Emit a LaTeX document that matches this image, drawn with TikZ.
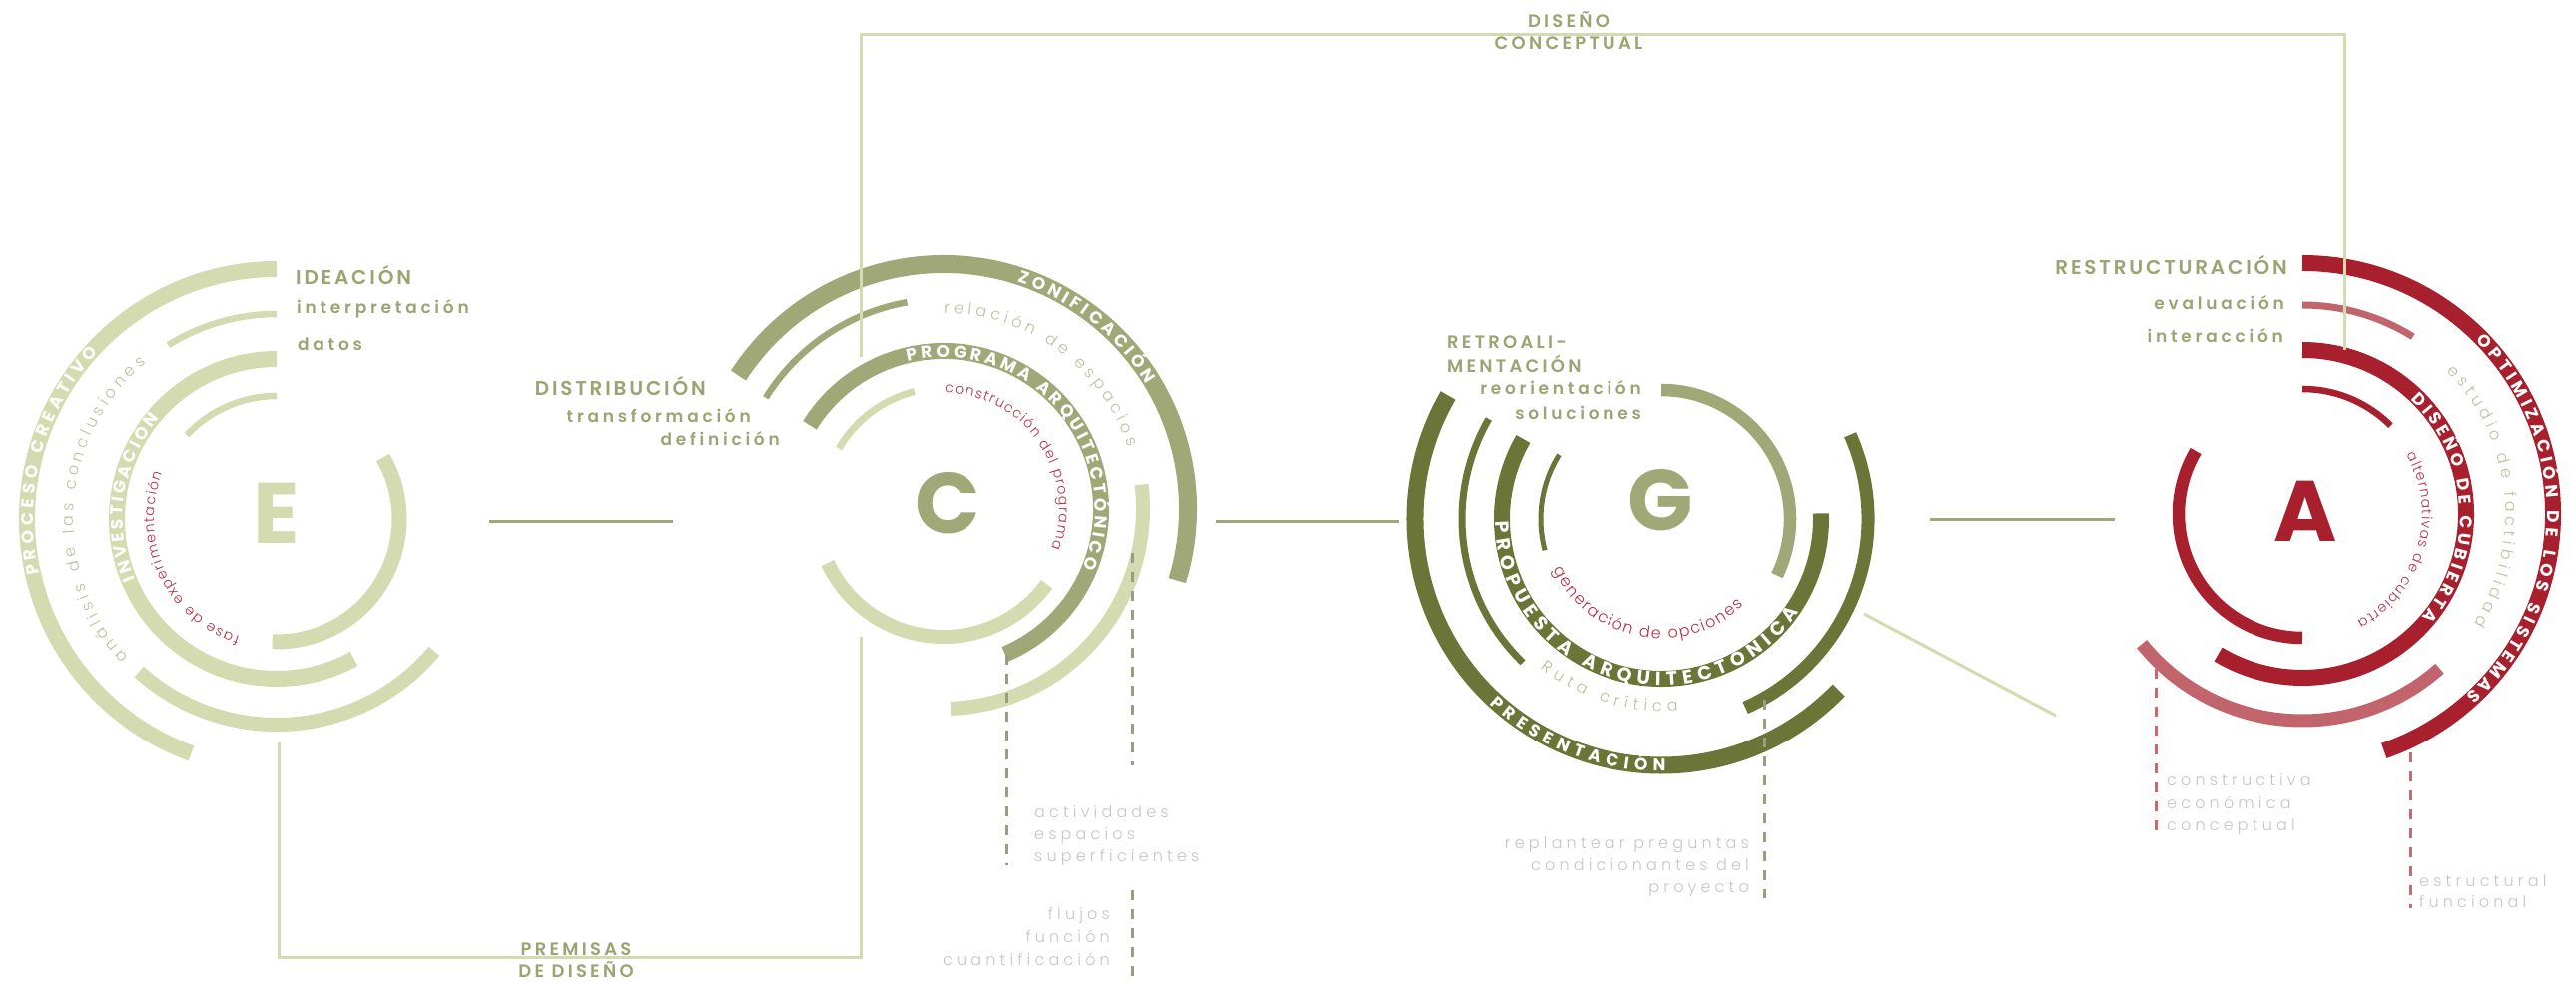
\documentclass[tikz,border=0pt]{standalone}
\usepackage{fontspec}
\setmainfont{Poppins}
\newfontfamily\capsfont[LetterSpace=14]{Poppins SemiBold}
\newfontfamily\midcapsfont[LetterSpace=18]{Poppins SemiBold}
\newfontfamily\lowfont[LetterSpace=22]{Poppins SemiBold}
\newfontfamily\grayfont[LetterSpace=26]{Poppins Light}
\newfontfamily\lightfont{Poppins Light}
\usetikzlibrary{decorations.text}
\definecolor{sage}{HTML}{D4DBB0}
\definecolor{olive}{HTML}{A0A878}
\definecolor{dolive}{HTML}{6B7537}
\definecolor{dred}{HTML}{A8202E}
\definecolor{lred}{HTML}{C1646C}
\definecolor{redtxt}{HTML}{B83044}
\definecolor{graytxt}{HTML}{C6C6C6}
\definecolor{sagetxt}{HTML}{BCC2A0}
\definecolor{lblcol}{HTML}{9DA473}
\definecolor{dashol}{HTML}{9A9E80}
\definecolor{dashred}{HTML}{C86A72}
\newcommand{\ringarc}[6]{\draw[#6,line width=#5pt] ([shift={(#2:#4)}]#1) arc[start angle=#2,end angle=#3,radius=#4];}
\newcommand{\arctext}[6]{\path[decorate,decoration={text along path,text align=fit to path,text={|#5|#6}}] ([shift={(#2:#4)}]#1) arc[start angle=#2,end angle=#3,radius=#4];}
\newcommand{\bandfont}{\color{white}\bfseries\fontsize{17}{17}\selectfont}
\newcommand{\bigbandfont}{\color{white}\bfseries\fontsize{19}{19}\selectfont}
\newcommand{\thinfont}{\color{sagetxt}\lightfont\fontsize{16}{16}\selectfont}
\newcommand{\redfont}{\color{redtxt}\lightfont\fontsize{14}{14}\selectfont}
\tikzset{
  capslbl/.style={inner sep=0pt,text=lblcol,font=\capsfont\fontsize{20}{20}\selectfont},
  midcaps/.style={inner sep=0pt,text=lblcol,font=\midcapsfont\fontsize{18}{18}\selectfont},
  lowlbl/.style={inner sep=0pt,text=lblcol,font=\lowfont\fontsize{17}{17}\selectfont},
  graylbl/.style={inner sep=0pt,text=graytxt,font=\grayfont\fontsize{16}{16}\selectfont},
  bigletter/.style={inner sep=0pt,font=\bfseries\fontsize{86}{86}\selectfont},
  link/.style={olive,line width=3pt},
  frameline/.style={sage,line width=3pt},
  dashline/.style={line width=3pt,dash pattern=on 10pt off 9pt},
}
\begin{document}
\begin{tikzpicture}[x=1pt,y=1pt]
\fill[white] (0,0) rectangle (2580,989);
\useasboundingbox (0,0) rectangle (2580,989);
% centres
\coordinate (E) at (277,469);
\coordinate (C) at (945,479);
\coordinate (G) at (1664,469);
\coordinate (A) at (2306,474);
% ---------- E group
\ringarc{E}{90}{250}{250}{16}{sage}
\ringarc{E}{90}{122}{205}{6.5}{sage}
\ringarc{E}{90}{299}{160}{16}{sage}
\ringarc{E}{90}{137}{123}{6.5}{sage}
\ringarc{E}{30}{-92}{123}{15}{sage}
\ringarc{E}{228}{320}{206}{14}{sage}
\node[bigletter,text=sage] (Eletter) at (277,475) {E};
\arctext{E}{193}{137}{244}{\bandfont}{PROCESO CREATIVO}
\arctext{E}{223}{130}{203.5}{\thinfont}{análisis de las conclusiones}
\arctext{E}{203}{139.5}{154}{\bandfont}{INVESTIGACIÓN}
\arctext{E}{252.5}{158}{123}{\redfont}{fase de experimentación}
% ---------- C group
\ringarc{C}{147}{-17}{245}{18}{olive}
\ringarc{C}{100}{148}{210}{6.5}{olive}
\ringarc{C}{148}{-67}{158}{16}{olive}
\ringarc{C}{104}{150}{121}{7}{sage}
\ringarc{C}{205}{324}{128}{14}{sage}
\ringarc{C}{7}{-88}{200}{14}{sage}
\node[bigletter,text=olive] (Cletter) at (949,485) {C};
\arctext{C}{72}{31.5}{239}{\bandfont}{ZONIFICACIÓN}
\arctext{C}{90}{18.6}{195.5}{\thinfont}{relación de espacios}
\arctext{C}{103.7}{-23}{152}{\bandfont}{PROGRAMA ARQUITECTÓNICO}
\arctext{C}{89.5}{-20}{116}{\redfont}{construcción del programa}
% ---------- G group
\ringarc{G}{90}{-26}{129}{12.5}{olive}
\ringarc{G}{148}{195}{121}{5}{dolive}
\ringarc{G}{150}{362}{160}{16}{dolive}
\ringarc{G}{150}{226}{200}{7}{dolive}
\ringarc{G}{24}{-66}{207}{13}{dolive}
\ringarc{G}{150}{316}{247}{17}{dolive}
\node[bigletter,text=olive] (Gletter) at (1663,488) {G};
\arctext{G}{181}{326}{166.5}{\bigbandfont}{PROPUESTA ARQUITECTÓNICA}
\arctext{G}{227}{271}{253}{\bandfont}{PRESENTACIÓN}
\arctext{G}{205}{313.6}{119.5}{\color{redtxt}\lightfont\fontsize{16}{16}\selectfont}{generación de opciones}
\arctext{G}{231}{275}{192.5}{\thinfont}{Ruta crítica}
% ---------- A group
\ringarc{A}{90}{-71}{251}{16}{dred}
\ringarc{A}{90}{58}{209}{7}{lred}
\ringarc{A}{90}{-121}{164}{16}{dred}
\ringarc{A}{90}{45}{125}{6.5}{dred}
\ringarc{A}{149.5}{270}{124}{12.5}{dred}
\ringarc{A}{219}{311.6}{207}{13}{lred}
\node[bigletter,text=dred] (Aletter) at (2309,477) {A};
\arctext{A}{45}{-48}{245}{\bandfont}{OPTIMIZACIÓN DE LOS SISTEMAS}
\arctext{A}{44.6}{-32.5}{203.5}{\thinfont}{estudio de factibilidad}
\arctext{A}{46.5}{-40.6}{158}{\bandfont}{DISEÑO DE CUBIERTA}
\arctext{A}{29.7}{-62.8}{120}{\redfont}{alternativas de cubierta}
% ---------- connectors between groups
\coordinate (ec1) at (490,466); \coordinate (ec2) at (674,466);
\coordinate (cg1) at (1218,466); \coordinate (cg2) at (1401,466);
\coordinate (ga1) at (1933,468); \coordinate (ga2) at (2118,468);
\draw[link] (ec1) -- (ec2);
\draw[link] (cg1) -- (cg2);
\draw[link] (ga1) -- (ga2);
% top frame: DISEÑO CONCEPTUAL
\coordinate (tl) at (862,954); \coordinate (tr) at (2348,954);
\coordinate (tlb) at (862,631); \coordinate (trb) at (2348,638);
\draw[frameline] (tlb) -- (tl) -- (tr) -- (trb);
% bottom frame: PREMISAS DE DISEÑO
\coordinate (bl1) at (862,351); \coordinate (bl2) at (862,30);
\coordinate (bl3) at (279,30); \coordinate (bl4) at (279,245);
\draw[frameline] (bl1) -- (bl2) -- (bl3) -- (bl4);
% diagonal
\coordinate (dg1) at (1867,374); \coordinate (dg2) at (2059,272);
\draw[frameline] (dg1) -- (dg2);
% dashed leaders
\coordinate (c1a) at (1008,333); \coordinate (c1b) at (1008,122);
\coordinate (c2a) at (1134,435); \coordinate (c2b) at (1134,222);
\coordinate (c3a) at (1134,97);  \coordinate (c3b) at (1134,2);
\coordinate (g1a) at (1767,288); \coordinate (g1b) at (1767,89);
\coordinate (a1a) at (2159,319); \coordinate (a1b) at (2159,154);
\coordinate (a2a) at (2414,235); \coordinate (a2b) at (2414,79);
\draw[dashline,dashol] (c1a) -- (c1b);
\draw[dashline,dashol] (c2a) -- (c2b);
\draw[dashline,dashol] (c3a) -- (c3b);
\draw[dashline,dashol] (g1a) -- (g1b);
\draw[dashline,dashred] (a1a) -- (a1b);
\draw[dashline,dashred] (a2a) -- (a2b);
% ---------- labels
\node[capslbl,anchor=base west] (ideac) at (296,703) {IDEACIÓN};
\node[lowlbl,anchor=base west] (interp) at (297,674) {interpretación};
\node[lowlbl,anchor=base west] (datos) at (298,637) {datos};
\node[capslbl,anchor=base east] (distr) at (707,592) {DISTRIBUCIÓN};
\node[lowlbl,anchor=base east] (transf) at (752,565) {transformación};
\node[lowlbl,anchor=base east] (defin) at (781,542) {definición};
\node[midcaps,anchor=base west] (retro1) at (1449,639) {RETROALI-};
\node[midcaps,anchor=base west] (retro2) at (1449,615) {MENTACIÓN};
\node[lowlbl,anchor=base east] (reori) at (1644,593) {reorientación};
\node[lowlbl,anchor=base east] (soluc) at (1644,568) {soluciones};
\node[capslbl,anchor=base east] (restr) at (2291,713) {RESTRUCTURACIÓN};
\node[lowlbl,anchor=base east] (evalu) at (2288,678) {evaluación};
\node[lowlbl,anchor=base east] (inter) at (2287,645) {interacción};
\node[midcaps,anchor=base] (dis1) at (1571,961) {DISEÑO};
\node[midcaps,anchor=base] (dis2) at (1571,939) {CONCEPTUAL};
\node[midcaps,anchor=base] (prem1) at (577,32) {PREMISAS};
\node[midcaps,anchor=base] (prem2) at (577,10) {DE DISEÑO};
\node[graylbl,anchor=base west] (g1) at (1036,170) {actividades};
\node[graylbl,anchor=base west] (g2) at (1036,148) {espacios};
\node[graylbl,anchor=base west] (g3) at (1036,126) {superficientes};
\node[graylbl,anchor=base east] (g4) at (1112,68) {flujos};
\node[graylbl,anchor=base east] (g5) at (1112,45) {función};
\node[graylbl,anchor=base east] (g6) at (1112,22) {cuantificación};
\node[graylbl,anchor=base east] (g7) at (1752,139) {replantear preguntas};
\node[graylbl,anchor=base east] (g8) at (1752,117) {condicionantes del};
\node[graylbl,anchor=base east] (g9) at (1752,95) {proyecto};
\node[graylbl,anchor=base west] (g10) at (2170,202) {constructiva};
\node[graylbl,anchor=base west] (g11) at (2170,179) {económica};
\node[graylbl,anchor=base west] (g12) at (2170,157) {conceptual};
\node[graylbl,anchor=base west] (g13) at (2423,101) {estructural};
\node[graylbl,anchor=base west] (g14) at (2423,80) {funcional};
\end{tikzpicture}
\end{document}
